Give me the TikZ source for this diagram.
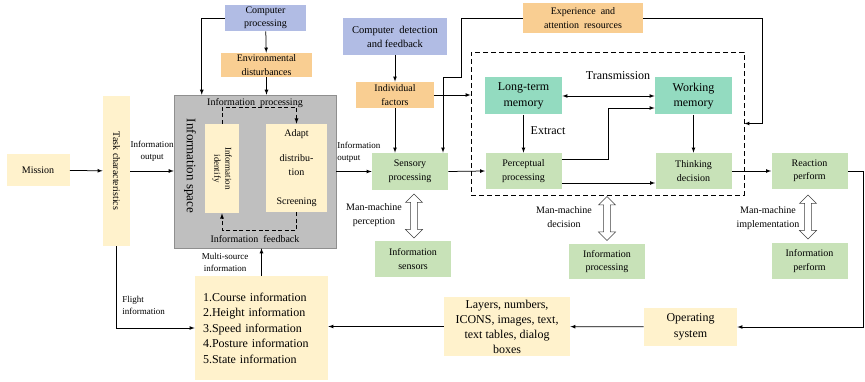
\documentclass[tikz,border=0pt]{standalone}
\usepackage{fontspec}
\setmainfont{Liberation Serif}
\usepackage{tikz}
\usetikzlibrary{shapes.arrows}
\definecolor{yel}{HTML}{FFF2CC}
\definecolor{org}{HTML}{F9CE92}
\definecolor{blu}{HTML}{B1BCE4}
\definecolor{tea}{HTML}{93DBC0}
\definecolor{grn}{HTML}{C8E2B8}
\definecolor{gry}{HTML}{BFBFBF}
\tikzset{box/.style={shape=rectangle, inner sep=1pt, align=center, font=\fontsize{10}{13.5}\selectfont}}
\tikzset{bigbox/.style={box, font=\fontsize{12}{15.5}\selectfont}}
\tikzset{yelbox/.style={box, fill=yel}}
\tikzset{orgbox/.style={box, fill=org}}
\tikzset{blubox/.style={box, fill=blu}}
\tikzset{teabox/.style={bigbox, fill=tea, minimum width=77, minimum height=37}}
\tikzset{grnbox/.style={box, fill=grn, minimum width=76, minimum height=36}}
\tikzset{lbl/.style={inner sep=0pt, align=center, font=\fontsize{9}{12}\selectfont}}
\tikzset{mmlbl/.style={inner sep=0pt, align=center, font=\fontsize{10}{13.5}\selectfont}}
\tikzset{dashbox/.style={draw, dash pattern=on 5pt off 3pt, line width=0.8pt}}
\tikzset{dashline/.style={dash pattern=on 4pt off 2.5pt, line width=0.8pt}}
\tikzset{hollowarrow/.style={shape=double arrow, draw=black!75, fill=white, line width=0.5pt, rotate=90, minimum height=44, minimum width=17, inner sep=3pt, double arrow head extend=5pt}}

\begin{document}
\begin{tikzpicture}[x=1pt, y=-1pt, >=latex, line width=0.75pt]
\useasboundingbox (0,0) rectangle (865,382);

\node[style=yelbox, minimum width=63, minimum height=32] (mission) at (38,170) {Mission};
\node[style=yelbox, minimum width=27, minimum height=150] (task) at (116.5,171) {\rotatebox{-90}{Task characteristics}};

\node[draw=gry!75!black, fill=gry, line width=0.5pt, minimum width=162, minimum height=153] (space) at (255,171.5) {};
\node[font=\fontsize{13}{15}\selectfont, inner sep=0pt] (spacetext) at (190,166) {\rotatebox{-90}{Information space}};
\node[style=box] (iproc) at (255,103) {Information\ \ processing};
\node[style=box] (ifeed) at (255,239) {Information\ \ feedback};
\node[style=yelbox, minimum width=34, minimum height=89, font=\fontsize{9}{11}\selectfont] (idf) at (222,168.5) {\rotatebox{-90}{\begin{tabular}{@{}c@{}}Information\\identify\end{tabular}}};
\node[style=yelbox, minimum width=61, minimum height=88] (adapt) at (296.5,168) {Adapt\\[12pt]distribu-\\tion\\[16pt]Screening};
\draw[dashline, ->] (idf.north) -- ++(0,-16) -| (adapt.north);
\draw[dashline, ->] (adapt.south) -- ++(0,18) -| (idf.south);

\node[style=blubox, minimum width=81, minimum height=26] (cp) at (265.5,18) {Computer\\processing};
\node[style=orgbox, minimum width=91, minimum height=24] (env) at (266.5,65) {Environmental\\disturbances};
\node[style=yelbox, bigbox, minimum width=133, minimum height=104, text width=117, align=left] (list) at (261.5,328) {1.Course information\\2.Height\ information\\3.Speed information\\4.Posture information\\5.State information};

\node[style=blubox, minimum width=104, minimum height=37, font=\fontsize{10.5}{14}\selectfont] (cdf) at (395,36.5) {Computer\ \ detection\\and feedback};
\node[style=orgbox, minimum width=78, minimum height=26] (indf) at (395,95) {Individual\\factors};
\node[style=orgbox, minimum width=120, minimum height=30] (exp) at (583,18) {Experience\ \ and\\attention\ \ resources};
\node[style=grnbox, minimum height=37] (sens) at (410,171.5) {Sensory\\processing};

\node[dashbox, minimum width=273, minimum height=143] (dbox) at (607.5,123.5) {};
\node[style=teabox] (ltm) at (523.5,96) {Long-term\\memory};
\node[style=teabox] (wm) at (693.5,96) {Working\\memory};
\node[style=grnbox] (per) at (523.5,171) {Perceptual\\processing};
\node[style=grnbox] (thk) at (693.5,171) {Thinking\\decision};
\node[style=grnbox] (reac) at (809.5,171) {Reaction\\perform};
\node[style=bigbox] (trans) at (618,76) {Transmission};
\node[style=bigbox] (extract) at (548,131) {Extract};

\node[style=grnbox] (isen) at (413,259) {Information\\sensors};
\node[style=grnbox, minimum height=35] (ipro) at (607,261.5) {Information\\processing};
\node[style=grnbox] (iperf) at (809.5,261) {Information\\perform};
\node[hollowarrow] (pa) at (414,216) {};
\node[hollowarrow] (da) at (607,218.5) {};
\node[hollowarrow] (ia) at (808,217) {};
\node[mmlbl] (pl) at (374,215) {Man-machine\\perception};
\node[mmlbl] (dl) at (564,217) {Man-machine\\decision};
\node[mmlbl] (il) at (768,218) {Man-machine\\implementation};

\node[style=yelbox, bigbox, minimum width=93, minimum height=38] (os) at (690.5,327) {Operating\\system};
\node[style=yelbox, bigbox, minimum width=126, minimum height=59, font=\fontsize{12}{15}\selectfont] (lay) at (507,326.5) {Layers, numbers,\\ICONS, images, text,\\text tables, dialog\\boxes};

\node[lbl] (out1) at (152,151) {Information\\output};
\node[lbl, anchor=west, align=left] (out2) at (337,152) {Information\\output};
\node[lbl, anchor=west, align=left] (flight) at (122,305) {Flight\\information};
\node[lbl] (multi) at (225,262) {Multi-source\\information};

\draw[->] (mission) -- (task);
\draw[->] (task.east) -- (task.east -| space.west);
\draw[->] (task.south) |- (list.west);
\draw[->] (list.north) -- (list.north |- space.south);
\draw[->] (cp) -- (env);
\draw[->] (env.south) -- (env.south |- space.north);
\draw[->] (cp.west) -| ([xshift=28pt]space.north west);
\draw[->] (space.east) -- (sens.west);
\draw[->] (cdf) -- (indf);
\draw[->] (indf.south) -- (indf.south |- sens.north);
\draw[->] (indf.east) -- (indf.east -| dbox.west);
\draw[->] (exp.west) -- ++(-61,0) -- ++(0,59) -| ([xshift=33pt]sens.north);
\draw[->] (exp.east) -- ++(119,0) |- (dbox.east);
\draw[->] (sens.east) -- (per.west);
\draw[<->] (ltm.east) -- (wm.west);
\draw[->] (ltm) -- (per);
\draw[->] ([yshift=12pt]per.east) -- ++(46,0) |- ([yshift=-12pt]wm.west);
\draw[->] ([yshift=-12pt]per.east) -- ([yshift=-12pt]thk.west);
\draw[->] (wm) -- (thk);
\draw[->] (thk) -- (reac);
\draw[->] (reac.east) -- ++(15,0) |- (os.east);
\draw[->] (os) -- (lay);
\draw[->] (lay.west) -- (lay.west -| list.east);
\end{tikzpicture}
\end{document}
